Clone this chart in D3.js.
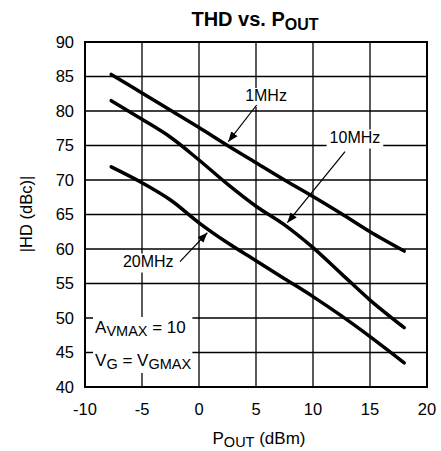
<!DOCTYPE html>
<html lang="en">
<head>
    <meta charset="UTF-8">
    <title>THD vs. POUT</title>
    <script src="https://d3js.org/d3.v7.min.js"></script>
    <style>
        body { margin: 0; background: #fff; }
        text { font-family: Arial, "Liberation Sans", sans-serif; fill: #000; }
    </style>
</head>
<body>
    <div id="chart"></div>

    <script type="text/javascript">
        // data (Pout in dBm, |HD| in dBc)
        var pout = [-7.7, -5, -2.5, 0, 2.5, 5, 7.5, 10, 12.5, 15, 18];
        var hd1MHz = [85.3, 82.6, 80.1, 77.6, 75.0, 72.5, 70.0, 67.6, 65.1, 62.5, 59.7];
        var hd10MHz = [81.5, 78.8, 76.2, 72.9, 69.4, 66.2, 63.5, 60.2, 56.4, 52.6, 48.6];
        var hd20MHz = [71.9, 69.6, 67.1, 63.8, 60.9, 58.3, 55.7, 53.1, 50.3, 47.3, 43.5];
        var xTicks = [-10, -5, 0, 5, 10, 15, 20];
        var yTicks = [40, 45, 50, 55, 60, 65, 70, 75, 80, 85, 90];

        var width = 441, height = 451;

        var svg = d3.select("#chart").append("svg")
            .attr("width", width)
            .attr("height", height);

        var x = d3.scaleLinear().domain([-10, 20]).range([85, 427]);
        var y = d3.scaleLinear().domain([40, 90]).range([387, 42]);

        // grid
        var grid = svg.append("g");
        grid.selectAll(".vx").data(xTicks.slice(1, -1)).enter().append("line")
            .attr("x1", d => x(d)).attr("x2", d => x(d))
            .attr("y1", y(40)).attr("y2", y(90))
            .attr("stroke", "#000").attr("stroke-width", 1.3);
        grid.selectAll(".hy").data(yTicks.slice(1, -1)).enter().append("line")
            .attr("x1", x(-10)).attr("x2", x(20))
            .attr("y1", d => y(d)).attr("y2", d => y(d))
            .attr("stroke", "#000").attr("stroke-width", 1.3);

        // tick labels
        svg.selectAll(".xt").data(xTicks).enter().append("text")
            .attr("x", d => x(d)).attr("y", 415)
            .attr("text-anchor", "middle")
            .style("font-size", "16.5px")
            .text(d => d);
        svg.selectAll(".yt").data(yTicks).enter().append("text")
            .attr("x", 74).attr("y", d => y(d))
            .attr("dy", "0.36em")
            .attr("text-anchor", "end")
            .style("font-size", "16.5px")
            .text(d => d);

        // curves
        var line = d3.line()
            .x(d => x(d[0])).y(d => y(d[1]))
            .curve(d3.curveCatmullRom.alpha(0.5));
        [hd1MHz, hd10MHz, hd20MHz].forEach(function(s) {
            svg.append("path")
                .datum(pout.map((p, i) => [p, s[i]]))
                .attr("d", line)
                .attr("fill", "none")
                .attr("stroke", "#000")
                .attr("stroke-width", 3.5)
                .attr("stroke-linecap", "round");
        });

        // arrowhead
        svg.append("defs").append("marker")
            .attr("id", "arr")
            .attr("viewBox", "0 0 10 10")
            .attr("refX", 10).attr("refY", 5)
            .attr("markerWidth", 10).attr("markerHeight", 10)
            .attr("markerUnits", "userSpaceOnUse")
            .attr("orient", "auto")
            .append("path")
            .attr("d", "M0,1 L10,5 L0,9 Z")
            .attr("fill", "#000");

        // labels with white background
        function label(txt, cx, by) {
            var t = svg.append("text")
                .attr("x", x(cx)).attr("y", y(by))
                .attr("text-anchor", "middle")
                .style("font-size", "16px")
                .text(txt);
            var b = t.node().getBBox();
            svg.insert("rect", function() { return t.node(); })
                .attr("x", b.x - 3).attr("y", b.y + 1)
                .attr("width", b.width + 6).attr("height", b.height + 2)
                .attr("fill", "#fff");
        }
        function arrow(x0, y0, x1, y1) {
            svg.append("line")
                .attr("x1", x(x0)).attr("y1", y(y0))
                .attr("x2", x(x1)).attr("y2", y(y1))
                .attr("stroke", "#000").attr("stroke-width", 1.2)
                .attr("marker-end", "url(#arr)");
        }
        label("1MHz", 5.88, 81.45);
        arrow(5.06, 80.87, 2.57, 75.55);
        label("10MHz", 13.68, 75.43);
        arrow(12.81, 74.1, 7.75, 63.81);
        label("20MHz", -4.45, 57.46);
        arrow(-1.67, 58.16, 0.73, 62.36);

        // conditions box
        var cond = svg.append("g");
        var c1 = cond.append("text").attr("x", x(-9.12)).attr("y", y(47.83)).style("font-size", "17px");
        c1.append("tspan").text("A");
        c1.append("tspan").attr("dy", 3).style("font-size", "14.5px").text("VMAX");
        c1.append("tspan").attr("dy", -3).text(" = 10");
        var c2 = cond.append("text").attr("x", x(-9.12)).attr("y", y(43.04)).style("font-size", "17px");
        c2.append("tspan").text("V");
        c2.append("tspan").attr("dy", 3).style("font-size", "14.5px").text("G");
        c2.append("tspan").attr("dy", -3).text(" = V");
        c2.append("tspan").attr("dy", 3).style("font-size", "14.5px").text("GMAX");
        var cb = cond.node().getBBox();
        cond.insert("rect", ":first-child")
            .attr("x", cb.x - 2).attr("y", cb.y - 1)
            .attr("width", cb.width + 3).attr("height", cb.height + 2)
            .attr("fill", "#fff");

        // plot border
        svg.append("rect")
            .attr("x", x(-10)).attr("y", y(90))
            .attr("width", x(20) - x(-10)).attr("height", y(40) - y(90))
            .attr("fill", "none").attr("stroke", "#000").attr("stroke-width", 2);

        // title
        var title = svg.append("text")
            .attr("x", 255).attr("y", 26)
            .attr("text-anchor", "middle")
            .style("font-size", "20px").style("font-weight", "bold");
        title.append("tspan").text("THD vs. P");
        title.append("tspan").attr("dy", 4).style("font-size", "16px").text("OUT");

        // axis titles
        var xl = svg.append("text")
            .attr("x", 259).attr("y", 444)
            .attr("text-anchor", "middle")
            .style("font-size", "17px");
        xl.append("tspan").text("P");
        xl.append("tspan").attr("dy", 3).style("font-size", "14.5px").text("OUT");
        xl.append("tspan").attr("dy", -3).text(" (dBm)");

        svg.append("text")
            .attr("transform", "translate(32,214) rotate(-90)")
            .attr("text-anchor", "middle")
            .style("font-size", "16.5px")
            .text("|HD (dBc)|");
    </script>
</body>
</html>
